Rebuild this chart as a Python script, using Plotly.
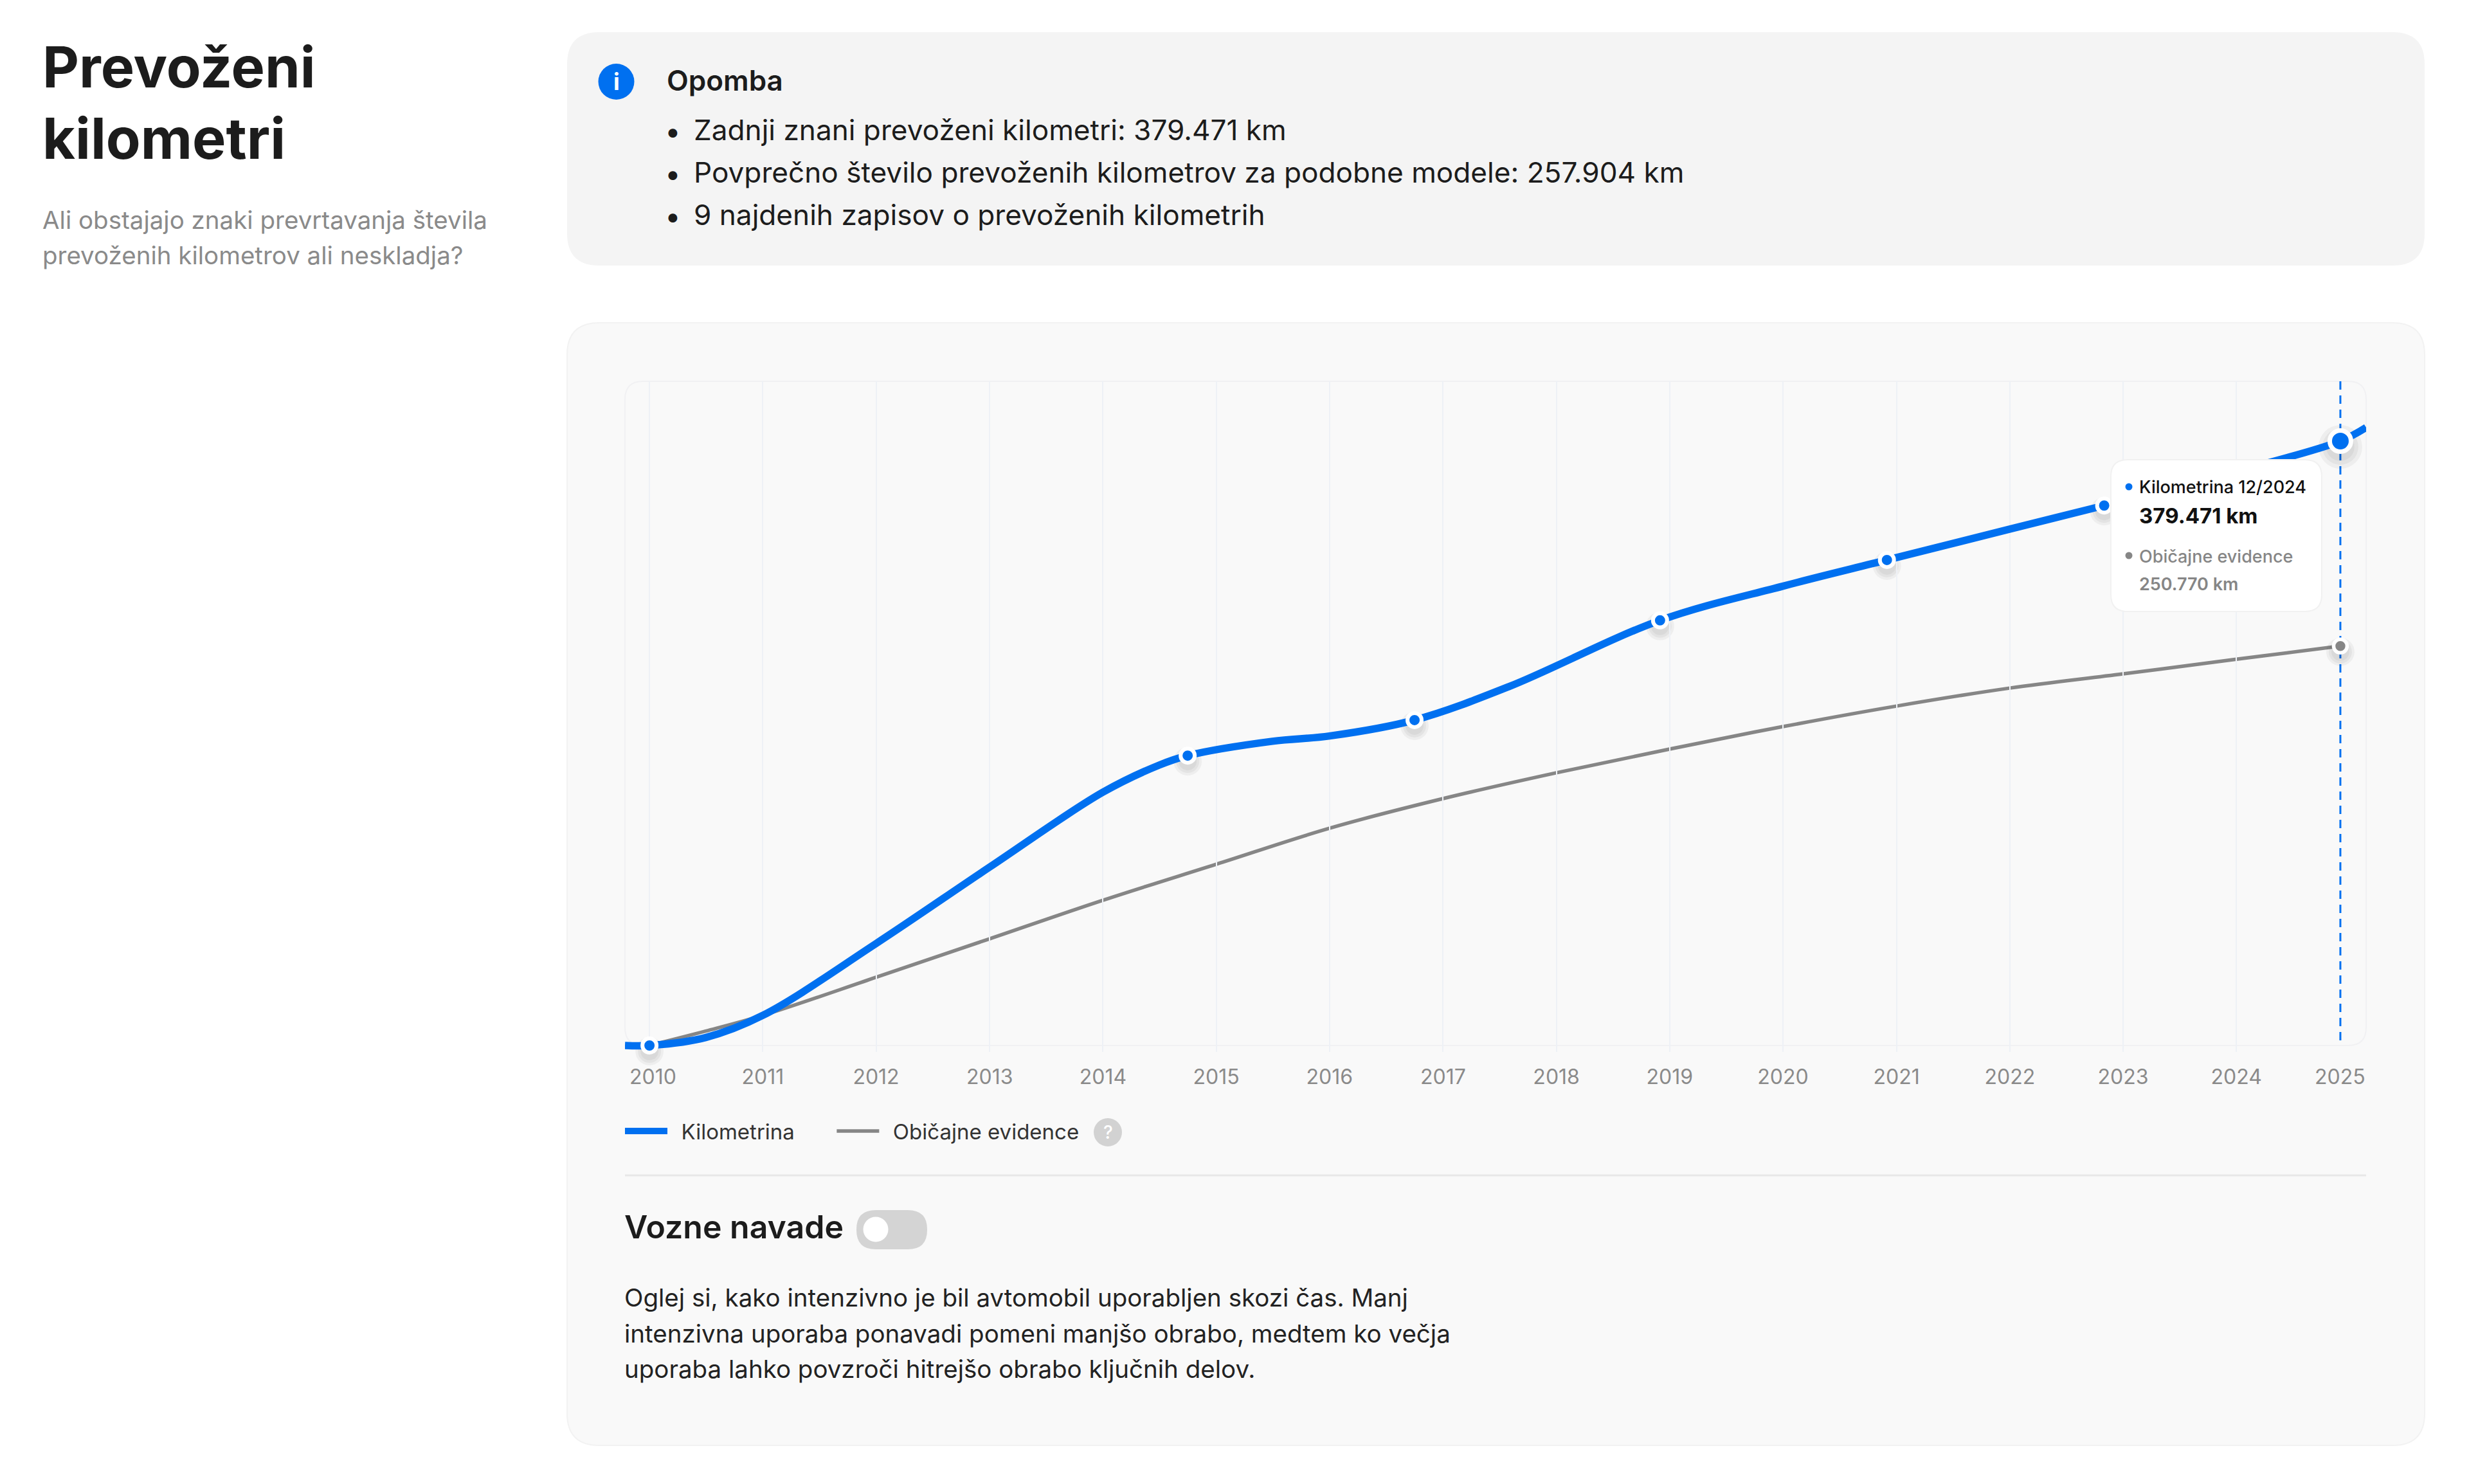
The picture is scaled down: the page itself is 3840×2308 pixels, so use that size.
import plotly.graph_objects as go

W, H = 3840, 2308
BLUE = '#0070f0'
GREY = '#868686'
FONT = 'Inter'

# values
years = ['2010', '2011', '2012', '2013', '2014', '2015', '2016', '2017',
         '2018', '2019', '2020', '2021', '2022', '2023', '2024', '2025']
km_dates = ['2009-10-14', '2010-01-01', '2010-07-01', '2011-01-01', '2012-01-01', '2013-01-01',
            '2014-01-01', '2014-07-01', '2014-10-01', '2015-07-01', '2016-01-01', '2016-10-01', '2017-08-01',
            '2018-12-01', '2020-01-01', '2020-12-01', '2022-01-01', '2022-11-01', '2024-01-01',
            '2024-12-01', '2025-02-22']
km_values = [0, 0, 5000, 18900, 64000, 112000,
             159000, 176000, 182000, 191000, 194300, 204300, 225300,
             266900, 288400, 304800, 324200, 339000, 360500,
             379471, 388000]
avg_dates = ['2010-01-01', '2010-07-01', '2011-01-01', '2012-01-01', '2013-01-01', '2014-01-01',
             '2015-01-01', '2016-01-01', '2017-01-01', '2018-01-01', '2019-01-01', '2020-01-01',
             '2021-01-01', '2022-01-01', '2023-01-01', '2024-01-01', '2024-12-01']
avg_values = [0, 9000, 18900, 42800, 67000, 91200,
              113800, 136400, 155000, 171200, 186100, 200200,
              213100, 224400, 233300, 242500, 250770]
record_dates = ['2010-01-01', '2014-10-01', '2016-10-01', '2018-12-01', '2020-12-01', '2022-11-01']
record_values = [0, 182000, 204300, 266900, 304800, 339000]
last_date = '2024-12-01'
last_km = 379471
last_avg = 250770

note_lines = ['Zadnji znani prevoženi kilometri: 379.471 km',
              'Povprečno število prevoženih kilometrov za podobne modele: 257.904 km',
              '9 najdenih zapisov o prevoženih kilometrih']
body_lines = ['Oglej si, kako intenzivno je bil avtomobil uporabljen skozi čas. Manj',
              'intenzivna uporaba ponavadi pomeni manjšo obrabo, medtem ko večja',
              'uporaba lahko povzroči hitrejšo obrabo ključnih delov.']


def px(x):
    return x / W


def py(y):
    return 1 - y / H


def rounded(x0, y0, x1, y1, r, fill, line=None, lw=0, layer='below'):
    # rounded rectangle, given in page pixels
    d = 'M{},{} L{},{} Q{},{} {},{} L{},{} Q{},{} {},{} L{},{} Q{},{} {},{} L{},{} Q{},{} {},{} Z'.format(
        px(x0 + r), py(y0), px(x1 - r), py(y0), px(x1), py(y0), px(x1), py(y0 + r),
        px(x1), py(y1 - r), px(x1), py(y1), px(x1 - r), py(y1),
        px(x0 + r), py(y1), px(x0), py(y1), px(x0), py(y1 - r),
        px(x0), py(y0 + r), px(x0), py(y0), px(x0 + r), py(y0))
    return dict(type='path', path=d, xref='paper', yref='paper', fillcolor=fill, layer=layer,
                line=dict(color=line or 'rgba(0,0,0,0)', width=lw))


def circle(cx, cy, d, fill, layer='above'):
    return dict(type='circle', xref='paper', yref='paper', fillcolor=fill, layer=layer, line_width=0,
                x0=px(cx - d / 2), x1=px(cx + d / 2), y0=py(cy + d / 2), y1=py(cy - d / 2))


def label(x, y, s, size, color, weight=400, anchor='left'):
    return dict(x=px(x), y=py(y), xref='paper', yref='paper', text=s, showarrow=False,
                xanchor=anchor, yanchor='middle', borderpad=0,
                font=dict(family=FONT, size=size, color=color, weight=weight))


shapes = [
    rounded(882, 50, 3771, 413, 50, '#f4f4f4'),
    rounded(882, 502, 3771, 2248, 50, '#f9f9f9', '#f2f2f2', 2),
    rounded(972, 593, 3680, 1626, 28, 'rgba(0,0,0,0)', '#f1f1f3', 2),
    circle(958.5, 127, 56, BLUE, 'below'),
    dict(type='line', xref='paper', yref='paper', x0=px(972), x1=px(3680), y0=py(1828), y1=py(1828),
         line=dict(color='#e8e8e8', width=3), layer='below'),
    dict(type='line', xref='x', yref='paper', x0=last_date, x1=last_date, y0=py(593), y1=py(1626),
         line=dict(color=BLUE, width=3, dash='13px,9px'), layer='below'),
    rounded(3283, 715, 3611, 951, 26, '#ffffff', '#f1f1f1', 2, 'above'),
    circle(3311, 757, 11, BLUE),
    circle(3311, 864, 11, GREY),
    circle(1723, 1761, 44, '#d2d2d2', 'below'),
    rounded(1332, 1882, 1442, 1943, 30, '#d4d4d4'),
    circle(1362, 1912, 39, '#ffffff', 'below'),
]

annotations = [
    label(65, 104, 'Prevoženi', 88, '#1c1c1c', 700),
    label(65, 215, 'kilometri', 88, '#1c1c1c', 700),
    label(65, 342, 'Ali obstajajo znaki prevrtavanja števila', 38.5, '#8a8a8a'),
    label(65, 397, 'prevoženih kilometrov ali neskladja?', 38.5, '#8a8a8a'),
    label(958.5, 127, 'i', 36, '#ffffff', 700, 'center'),
    label(1036, 125, 'Opomba', 44, '#1c1c1c', 600),
    label(1723, 1761, '?', 28, '#ffffff', 500, 'center'),
    label(970, 1908, 'Vozne navade', 50, '#1c1c1c', 600),
    # tooltip
    label(3326, 757, 'Kilometrina 12/2024', 27, '#111111', 500),
    label(3326, 802, '379.471 km', 33, '#111111', 700),
    label(3326, 865, 'Običajne evidence', 27, GREY, 500),
    label(3326, 908, '250.770 km', 27, GREY, 600),
]
for i, line in enumerate(note_lines):
    annotations.append(label(1046, 204 + i * 66, '•', 44, '#1c1c1c', 400, 'center'))
    annotations.append(label(1078, 202 + i * 66, line, 44.15, '#1c1c1c'))
for i, line in enumerate(body_lines):
    annotations.append(label(970, 2018 + i * 55.5, line, 38.5, '#222222'))

# end tick labels sit pulled inside the plot, so they can't use the axis labels
annotations.append(dict(x=years[0] + '-01-01', y=py(1674), xref='x', yref='paper', text=years[0], showarrow=False,
                        xshift=5, xanchor='center', yanchor='middle',
                        font=dict(family=FONT, size=32, color='#8a8a8a')))
annotations.append(dict(x=years[-1] + '-01-01', y=py(1674), xref='x', yref='paper', text=years[-1], showarrow=False,
                        xshift=-15, xanchor='center', yanchor='middle',
                        font=dict(family=FONT, size=32, color='#8a8a8a')))

fig = go.Figure()
fig.add_trace(go.Scatter(x=avg_dates, y=avg_values, mode='lines', name='\u2002Običajne evidence',
                         line=dict(color=GREY, width=5.5, shape='spline', smoothing=1)))
# marker shadows, on y2 which is the same scale dropped by 9px
for grow in [0, 8, 16]:
    fig.add_trace(go.Scatter(x=record_dates + [last_date], y=record_values + [last_avg], mode='markers',
                             showlegend=False, yaxis='y2', cliponaxis=False,
                             marker=dict(size=28 + grow, color='rgba(0,0,0,0.045)', line_width=0)))
    fig.add_trace(go.Scatter(x=[last_date], y=[last_km], mode='markers',
                             showlegend=False, yaxis='y2', cliponaxis=False,
                             marker=dict(size=44 + grow * 1.5, color='rgba(0,0,0,0.045)', line_width=0)))
# y3 is the same scale too, reaching 10px lower so the blue line isn't cut at zero
fig.add_trace(go.Scatter(x=km_dates, y=km_values, mode='lines', name='\u2002Kilometrina\u2002\u2002\u2002\u2009', yaxis='y3',
                         line=dict(color=BLUE, width=11.5, shape='spline', smoothing=1)))
fig.add_trace(go.Scatter(x=record_dates, y=record_values, mode='markers', showlegend=False, yaxis='y3',
                         marker=dict(size=22, color=BLUE, line=dict(color='#ffffff', width=6)), cliponaxis=False))
fig.add_trace(go.Scatter(x=[last_date], y=[last_km], mode='markers', showlegend=False, yaxis='y3',
                         marker=dict(size=33, color=BLUE, line=dict(color='#ffffff', width=7)), cliponaxis=False))
fig.add_trace(go.Scatter(x=[last_date], y=[last_avg], mode='markers', showlegend=False, yaxis='y3',
                         marker=dict(size=21, color=GREY, line=dict(color='#ffffff', width=5.5)), cliponaxis=False))

hidden_y = dict(showgrid=False, zeroline=False, showline=False, showticklabels=False, ticks='')
fig.update_layout(
    width=W, height=H, margin=dict(l=0, r=0, t=0, b=0), autosize=False,
    paper_bgcolor='#ffffff', plot_bgcolor='rgba(0,0,0,0)',
    shapes=shapes, annotations=annotations,
    font=dict(family=FONT),
    legend=dict(orientation='h', x=px(967), y=py(1759), xanchor='left', yanchor='middle',
                traceorder='reversed', itemwidth=66, itemclick=False,
                font=dict(family=FONT, size=33, color='#333333'), bgcolor='rgba(0,0,0,0)'),
    xaxis=dict(type='date', domain=[px(972), px(3680)], range=['2009-10-14', '2025-02-22'],
               tickmode='array', tickvals=[y + '-01-01' for y in years[:-1]], ticktext=[''] + years[1:-1],
               showgrid=True, gridcolor='#eef1f6', gridwidth=2, zeroline=False, showline=False,
               ticks='outside', ticklen=21, tickcolor='rgba(0,0,0,0)',
               tickfont=dict(family=FONT, size=32, color='#8a8a8a')),
    yaxis=dict(domain=[py(1626), py(593)], range=[0, 417000], **hidden_y),
    yaxis2=dict(domain=[py(1635), py(602)], range=[0, 417000], anchor='x', **hidden_y),
    yaxis3=dict(domain=[py(1636), py(593)], range=[-4037, 417000], anchor='x', **hidden_y),
)

fig.write_html('out.html', post_script="document.body.style.margin='0';", config={'displayModeBar': False})
